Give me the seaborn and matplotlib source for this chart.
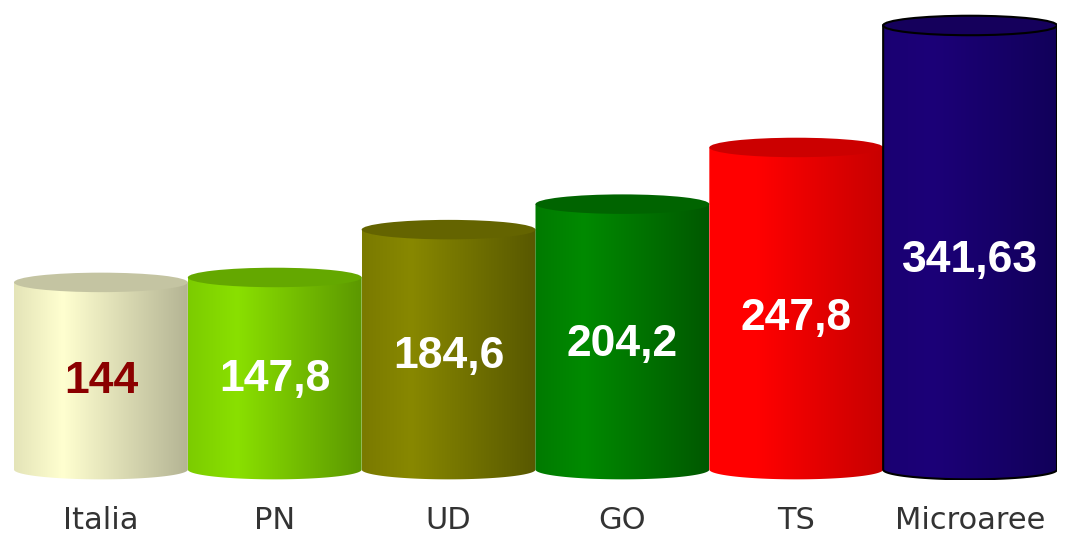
import numpy as np
import pandas as pd
import matplotlib
matplotlib.use("Agg")
import matplotlib.pyplot as plt
from matplotlib.path import Path
from matplotlib.patches import PathPatch, Ellipse
from matplotlib.colors import to_rgb
import seaborn as sns

categories = ["Italia", "PN", "UD", "GO", "TS", "Microaree"]
values = [144, 147.8, 184.6, 204.2, 247.8, 341.63]
value_labels = ["144", "147,8", "184,6", "204,2", "247,8", "341,63"]
body_left = ["#e4e4b8", "#7ccc00", "#7a7a00", "#007a00", "#ff0000", "#1a0072"]
body_light = ["#ffffd0", "#8ae000", "#888800", "#008a00", "#ff0000", "#1c0078"]
body_right = ["#b4b494", "#5c9800", "#585800", "#005800", "#c80000", "#11005a"]
top_colors = ["#c4c4a2", "#64a800", "#646400", "#006400", "#cc0000", "#15005c"]
label_colors = ["#8b0000", "white", "white", "white", "white", "white"]
edge_colors = [None, None, None, None, None, "black"]

sns.set_theme(style="white")
plt.rcParams["font.family"] = ["DejaVu Sans"]

fig = plt.figure(figsize=(10.82, 5.40), dpi=100)
eh = 15.0  # ellipse height in data units
ymin = -8.0
ymax = 360.0
ax = fig.add_axes([14 / 1082, 60 / 540, 1043 / 1082, (ymax - ymin) * 1.3 / 540])

df = pd.DataFrame({"cat": categories, "val": values})
sns.barplot(data=df, x="cat", y="val", hue="cat", palette=body_left,
            width=1.0, legend=False, ax=ax, saturation=1)

for i, p in enumerate(list(ax.patches)[:len(values)]):
    x0 = p.get_x()
    w = p.get_width()
    x1 = x0 + w
    v = p.get_height()
    cx = x0 + w / 2
    z = 2 + i
    p.set_visible(False)
    th = np.linspace(np.pi, 2 * np.pi, 60)
    bx = cx + (w / 2) * np.cos(th)
    by = (eh / 2) * np.sin(th)
    verts = [(x0, v)] + list(zip(bx, by)) + [(x1, v), (x0, v)]
    codes = [Path.MOVETO] + [Path.LINETO] * (len(verts) - 2) + [Path.CLOSEPOLY]
    path = Path(verts, codes)
    ec = edge_colors[i]
    clip = PathPatch(path, facecolor="none", edgecolor=ec if ec else "none",
                     lw=1.5, zorder=z + 0.5)
    ax.add_patch(clip)
    n = 200
    t = np.linspace(0, 1, n)
    cl = np.array(to_rgb(body_left[i]))
    cm = np.array(to_rgb(body_light[i]))
    cr = np.array(to_rgb(body_right[i]))
    grad = np.zeros((1, n, 3))
    for k, tt in enumerate(t):
        if tt < 0.28:
            grad[0, k] = cl + (cm - cl) * (tt / 0.28)
        else:
            grad[0, k] = cm + (cr - cm) * ((tt - 0.28) / 0.72)
    im = ax.imshow(grad, extent=[x0, x1, -eh, v], aspect="auto",
                   interpolation="bilinear", zorder=z, origin="lower")
    im.set_clip_path(clip)
    ax.add_patch(Ellipse((cx, v), w, eh, facecolor=top_colors[i],
                         edgecolor=ec if ec else "none", lw=1.5, zorder=z + 0.6))
    ax.text(cx, v * 0.47, value_labels[i], ha="center", va="center",
            color=label_colors[i], fontsize=32, fontweight="bold",
            family="Liberation Sans", zorder=20)

ax.set_xlim(-0.5, 5.5)
ax.set_ylim(ymin, ymax)
ax.set_xlabel("")
ax.set_ylabel("")
ax.set_yticks([])
ax.set_xticks(range(len(categories)))
ax.set_xticklabels(categories, fontsize=22, color="#333333")
ax.tick_params(axis="x", length=0, pad=19)
for s in ax.spines.values():
    s.set_visible(False)
ax.patch.set_alpha(0)

fig.savefig("out.png", dpi=100, facecolor="white")
